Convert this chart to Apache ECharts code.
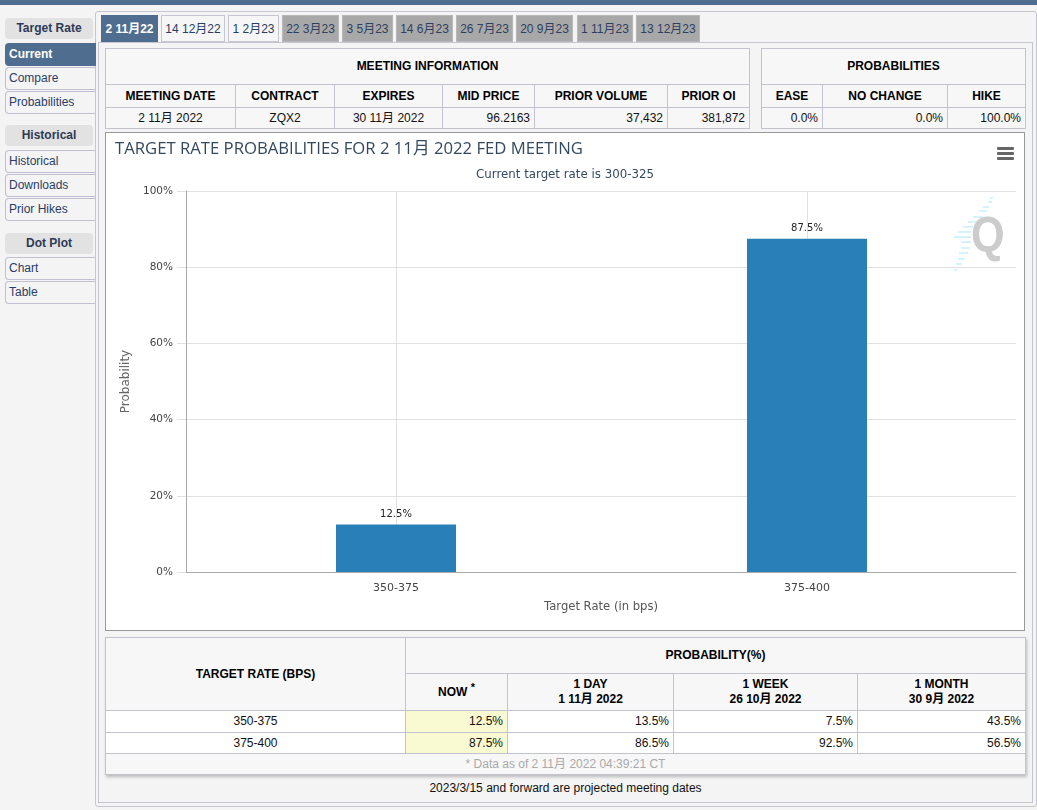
<!DOCTYPE html>
<html>
<head>
<meta charset="utf-8">
<title>CME FedWatch</title>
<script src="https://cdn.jsdelivr.net/npm/echarts@6/dist/echarts.min.js"></script>
<style>
html,body{margin:0;padding:0;width:1037px;height:810px;overflow:hidden;background:#f4f4f4;font-family:"Liberation Sans","Noto Sans CJK SC",sans-serif;font-size:12px;color:#111;}
.abs,.box{position:absolute;box-sizing:border-box;}
#topbar{left:0;top:0;width:1037px;height:5px;background:#4f6d8f;}
#outer{left:95px;top:11px;width:942px;height:796px;border:1px solid #c6c6d0;border-radius:3px;background:#f4f4f4;}
#inner{left:98px;top:42px;width:935px;height:761px;border:1px solid #c6c6d0;background:#f4f4f4;}
.head{left:5px;width:88px;height:21px;background:#e2e2e2;border-radius:4px;text-align:center;line-height:20px;font-weight:bold;color:#2e3a55;}
.side{left:5px;width:90px;height:23px;background:#f4f4f4;border:1px solid #c0c0d0;border-right:none;border-radius:4px 0 0 4px;padding-left:3px;line-height:20px;color:#2a3d66;}
.side.on{width:91px;background:#4f6d8f;color:#fff;border-color:#4f6d8f;font-weight:bold;}
.tab{top:15px;height:27px;text-align:center;line-height:27px;border:1px solid #c6c6d0;background:#f6f6f6;color:#2a3d66;}
.tab.on{background:#4f6d8f;color:#fff;border-color:#4f6d8f;font-weight:bold;}
.tab.off{background:#a8a8a8;border-color:#b8b8b8;color:#2f3f60;}
table{position:absolute;border-collapse:collapse;table-layout:fixed;background:#f7f7f7;line-height:15px;}
td,th{border:1px solid #c3c3d0;padding:0 4px;text-align:center;box-sizing:border-box;}
th{font-weight:bold;color:#000;}
td.r{text-align:right;}
.wh td{background:#fff;}
td.now{background:#fafad2 !important;}
#chartbox{left:105px;top:132px;width:920px;height:499px;border:1px solid #999;background:#fff;}
#main{position:absolute;left:0;top:0;width:918px;height:497px;}
#menu{position:absolute;left:891px;top:14px;width:17px;height:13px;}
#menu div{height:3px;background:#666;margin-bottom:2px;border-radius:1px;}
</style>
</head>
<body>
<div class="abs" id="topbar"></div>
<div class="abs" id="outer"></div>
<div class="abs" id="inner"></div>

<div class="abs head" style="top:18px">Target Rate</div>
<div class="abs side on" style="top:43px">Current</div>
<div class="abs side" style="top:67px">Compare</div>
<div class="abs side" style="top:91px">Probabilities</div>
<div class="abs head" style="top:125px">Historical</div>
<div class="abs side" style="top:150px">Historical</div>
<div class="abs side" style="top:174px">Downloads</div>
<div class="abs side" style="top:198px">Prior Hikes</div>
<div class="abs head" style="top:233px">Dot Plot</div>
<div class="abs side" style="top:257px">Chart</div>
<div class="abs side" style="top:281px">Table</div>

<div class="abs tab on" style="left:101px;width:57px">2 11月22</div>
<div class="abs tab" style="left:161px;width:64px">14 12月22</div>
<div class="abs tab" style="left:228px;width:51px">1 2月23</div>
<div class="abs tab off" style="left:282px;width:57px">22 3月23</div>
<div class="abs tab off" style="left:342px;width:51px">3 5月23</div>
<div class="abs tab off" style="left:396px;width:57px">14 6月23</div>
<div class="abs tab off" style="left:456px;width:57px">26 7月23</div>
<div class="abs tab off" style="left:516px;width:57px">20 9月23</div>
<div class="abs tab off" style="left:577px;width:56px">1 11月23</div>
<div class="abs tab off" style="left:636px;width:64px">13 12月23</div>

<table style="left:105px;top:48px;width:644px;height:81px">
<colgroup><col style="width:130px"><col style="width:99px"><col style="width:108px"><col style="width:92px"><col style="width:133px"><col style="width:82px"></colgroup>
<tr style="height:36px"><th colspan="6">MEETING INFORMATION</th></tr>
<tr style="height:23px"><th>MEETING DATE</th><th>CONTRACT</th><th>EXPIRES</th><th>MID PRICE</th><th>PRIOR VOLUME</th><th>PRIOR OI</th></tr>
<tr style="height:21px"><td>2 11月 2022</td><td>ZQX2</td><td>30 11月 2022</td><td class="r">96.2163</td><td class="r">37,432</td><td class="r">381,872</td></tr>
</table>
<table style="left:761px;top:48px;width:264px;height:81px">
<colgroup><col style="width:61px"><col style="width:125px"><col style="width:78px"></colgroup>
<tr style="height:36px"><th colspan="3">PROBABILITIES</th></tr>
<tr style="height:23px"><th>EASE</th><th>NO CHANGE</th><th>HIKE</th></tr>
<tr style="height:21px"><td class="r">0.0%</td><td class="r">0.0%</td><td class="r">100.0%</td></tr>
</table>

<div class="box" id="chartbox">
  <div id="main"></div>
  <div id="menu"><div></div><div></div><div></div></div>
</div>

<table id="ptable" style="left:105px;top:637px;width:920px;height:137px;box-shadow:1px 2px 3px #bbb">
<colgroup><col style="width:300px"><col style="width:102px"><col style="width:166px"><col style="width:184px"><col style="width:168px"></colgroup>
<tr style="height:36px"><th rowspan="2">TARGET RATE (BPS)</th><th colspan="4">PROBABILITY(%)</th></tr>
<tr style="height:37px"><th>NOW <sup style="font-size:11px;line-height:0">*</sup></th><th>1 DAY<br>1 11月 2022</th><th>1 WEEK<br>26 10月 2022</th><th>1 MONTH<br>30 9月 2022</th></tr>
<tbody id="rows" class="wh"></tbody>
<tr style="height:21px"><td colspan="5" style="color:#aaa">* Data as of 2 11月 2022 04:39:21 CT</td></tr>
</table>
<div class="abs" style="left:105px;top:781px;width:921px;text-align:center;">2023/3/15 and forward are projected meeting dates</div>

<script type="text/javascript">
// probabilities per target range, same numbers feed the table and the bars
var rows = [
    {range: '350-375', now: 12.5, day: 13.5, week: 7.5, month: 43.5},
    {range: '375-400', now: 87.5, day: 86.5, week: 92.5, month: 56.5}
];

var html = '';
rows.forEach(function (r, i) {
    html += '<tr style="height:' + (i == 0 ? 22 : 21) + 'px"><td>' + r.range + '</td>'
        + '<td class="r now">' + r.now.toFixed(1) + '%</td>'
        + '<td class="r">' + r.day.toFixed(1) + '%</td>'
        + '<td class="r">' + r.week.toFixed(1) + '%</td>'
        + '<td class="r">' + r.month.toFixed(1) + '%</td></tr>';
});
document.getElementById('rows').innerHTML = html;

var chartFont = '"DejaVu Sans","Noto Sans CJK SC",sans-serif';

// stripes behind the Q logo: [top, left, width] in chart pixels
var stripes = [];
[[64,884,3],[68,882,4],[73,877,6],[77,873,8],[83,867,10],[88,862,10],[93,857,10],[98,852,13],
 [103,848,17],[108,855,10],[114,855,9],[119,853,9],[125,852,7],[130,850,6],[136,848,3]].forEach(function (s) {
    stripes.push({type: 'rect', left: s[1], top: s[0], shape: {width: s[2], height: 2}, style: {fill: '#d6f3fb'}, silent: true});
});

var myChart = echarts.init(document.getElementById('main'), null, {renderer: 'canvas'});
var option = {
    animation: false,
    textStyle: {fontFamily: chartFont},
    title: [{
        text: 'TARGET RATE PROBABILITIES FOR 2 11月 2022 FED MEETING',
        left: 4, top: 3,
        textStyle: {fontFamily: '"Open Sans","Noto Sans CJK SC",sans-serif', fontSize: 16.7, fontWeight: 'normal', color: '#34495e'}
    }, {
        text: 'Current target rate is 300-325',
        left: 'center', top: 31,
        textStyle: {fontFamily: chartFont, fontSize: 11.8, fontWeight: 'normal', color: '#34495e'}
    }],
    // grid 0 holds the frame and horizontal lines, grid 1 is inset a little for the bars
    grid: [
        {left: 80, right: 8, top: 58, bottom: 58},
        {left: 84.5, right: 11.5, top: 58, bottom: 58}
    ],
    graphic: stripes.concat([{
        type: 'text', left: 865, top: 80, silent: true, scaleX: 1.08, scaleY: 1.25,
        style: {text: 'Q', fontSize: 40, fontWeight: 'bold', fontFamily: '"Liberation Sans"', fill: '#cccccc'}
    }]),
    xAxis: [{
        gridIndex: 0,
        type: 'category',
        data: [''],
        axisLine: {lineStyle: {color: '#aaaaaa'}},
        axisTick: {show: false},
        axisLabel: {show: false},
        name: 'Target Rate (in bps)',
        nameLocation: 'middle',
        nameGap: 29,
        nameTextStyle: {fontSize: 11.6, color: '#555'}
    }, {
        gridIndex: 1,
        type: 'category',
        data: rows.map(function (r) { return r.range; }),
        axisLine: {show: false},
        axisTick: {show: false},
        axisLabel: {fontSize: 11, color: '#444', margin: 11},
        splitLine: {show: true, alignWithLabel: true, lineStyle: {color: '#e0e0e0'}}
    }],
    yAxis: [{
        gridIndex: 0,
        type: 'value',
        min: 0, max: 100, interval: 20,
        axisLine: {show: true, lineStyle: {color: '#aaaaaa'}},
        axisTick: {show: true, length: 9, lineStyle: {color: '#e0e0e0'}},
        axisLabel: {fontSize: 10.5, color: '#444', margin: 13, formatter: '{value}%'},
        splitLine: {lineStyle: {color: '#e0e0e0'}},
        name: 'Probability',
        nameLocation: 'middle',
        nameGap: 50,
        nameTextStyle: {fontSize: 12, color: '#666'}
    }, {
        gridIndex: 1,
        type: 'value',
        min: 0, max: 100, interval: 20,
        show: false
    }],
    series: [{
        type: 'bar',
        xAxisIndex: 1,
        yAxisIndex: 1,
        barWidth: 120,
        data: rows.map(function (r) { return r.now; }),
        itemStyle: {color: '#2980b9'},
        label: {show: true, position: 'top', distance: 5, fontSize: 10, color: '#222', formatter: '{c}%'}
    }]
};
myChart.setOption(option);
</script>
</body>
</html>
